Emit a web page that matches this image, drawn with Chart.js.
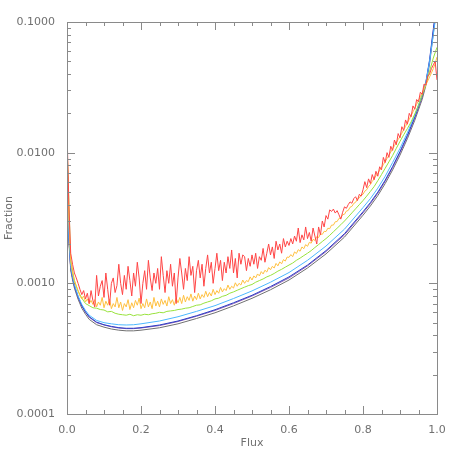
<!DOCTYPE html>
<html>
<head>
<meta charset="utf-8">
<script src="https://cdn.jsdelivr.net/npm/chart.js@4/dist/chart.umd.min.js"></script>
<style>
    body { margin: 0; background: #fff; }
    #wrap { width: 458px; height: 458px; }
</style>
</head>
<body>
<div id="wrap"><canvas id="fluxChart" width="458" height="458"></canvas></div>
<script>
        // values are in units of 1e-4 (fraction)
        // red and orange: sampled every 0.005 in flux
        const redE4 = [
            150, 40, 17, 14, 12, 11, 10, 9.0, 8.2, 8.8,
            7.6, 8.4, 7.0, 8.8, 7.4, 6.6, 11.5, 8.0, 9.5, 10.5,
            7.8, 12.0, 9.0, 6.8, 10.0, 11.0, 8.5, 9.6, 14.0, 10.0,
            8.2, 11.5, 9.0, 13.5, 10.5, 8.0, 12.0, 9.5, 14.5, 11.0,
            7.0, 10.0, 12.5, 9.0, 15.0, 11.0, 8.8, 12.0, 10.0, 13.0,
            9.0, 16.0, 11.5, 8.5, 12.5, 10.0, 14.0, 9.5, 12.0, 7.0,
            11.0, 15.5, 12.0, 9.0, 13.0, 10.5, 16.0, 11.5, 13.5, 8.5,
            12.5, 15.0, 11.0, 14.0, 9.5, 13.0, 16.5, 12.0, 14.5, 10.0,
            13.0, 17.0, 12.5, 15.0, 10.5, 14.5, 12.0, 16.0, 13.0, 18.0,
            12.0, 15.5, 11.0, 17.0, 14.0, 16.5, 16.0, 12.5, 15.5, 13.5,
            16.5, 14.0, 17.0, 13.0, 16.0, 15.0, 18.5, 14.5, 17.0, 20.0,
            16.5, 19.0, 15.5, 21.0, 18.0, 20.0, 17.0, 22.0, 19.0, 21.0,
            19.5, 22.0, 20.0, 23.0, 21.0, 26.5, 20.5, 23.5, 21.5, 27.0,
            22.0, 24.5, 21.0, 26.5, 23.0, 20.0, 27.0, 23.5, 30.0, 27.0,
            33.0, 31.0, 36.5, 35.5, 37.0, 34.5, 36.0, 33.5, 31.0, 35.0,
            38.5, 37.5, 40.0, 42.0, 41.0, 44.5, 46.0, 43.0, 48.0, 46.5,
            52, 60, 54, 63, 58, 68, 62, 72, 66, 78,
            74, 92, 84, 100, 92, 112, 104, 125, 115, 140,
            130, 158, 148, 178, 165, 200, 188, 228, 215, 255,
            245, 290, 280, 335, 330, 385, 400, 440, 470, 500,
            360
        ];
        const orangeE4 = [
            130, 30, 15, 12, 10.5, 9.5, 8.8, 8.0, 7.6, 8.0,
            7.2, 7.6, 7.0, 7.4, 6.9, 7.5, 6.6, 7.2, 6.8, 7.8,
            6.5, 7.3, 6.8, 7.6, 6.4, 7.0, 6.6, 7.8, 6.5, 7.2,
            6.2, 7.0, 6.6, 7.5, 6.3, 7.1, 6.5, 7.4, 6.8, 7.7,
            6.4, 7.0, 6.5, 7.6, 6.6, 7.2, 6.4, 7.8, 6.7, 7.3,
            6.6, 7.6, 6.9, 7.4, 6.7, 7.9, 7.0, 7.5, 6.8, 7.7,
            7.1, 7.8, 7.0, 8.1, 7.2, 7.9, 7.4, 8.3, 7.3, 8.0,
            7.5, 8.4, 7.6, 8.2, 7.8, 8.7, 7.9, 8.5, 8.0, 9.0,
            8.2, 8.8, 8.4, 9.3, 8.6, 9.1, 8.8, 9.7, 9.0, 9.5,
            9.2, 10.1, 9.5, 10.0, 9.7, 10.6, 10.0, 10.5, 10.3, 11.2,
            10.6, 11.4, 11.0, 11.8, 11.4, 12.3, 11.8, 12.6, 12.2, 13.2,
            12.7, 13.5, 13.1, 14.2, 13.6, 14.6, 14.1, 15.2, 14.8, 15.9,
            15.8, 16.6, 16.0, 17.4, 16.9, 18.1, 17.6, 19.0, 18.4, 19.8,
            19.2, 20.6, 20.3, 21.7, 21.3, 22.8, 22.4, 23.9, 23.7, 25.0,
            24.9, 26.4, 26.2, 27.9, 27.9, 29.6, 29.7, 31.4, 31.6, 33.5,
            33.8, 35.7, 36.1, 38.2, 38.8, 40.9, 41.7, 44.0, 45.0, 47.3,
            48.0, 50.8, 52.0, 55.2, 57.0, 60.3, 62.8, 66.5, 69.5, 73.4,
            76.8, 81.0, 85.4, 90.2, 95.3, 101, 107, 113, 119, 126,
            133, 141, 150, 159, 169, 180, 192, 205, 219, 234,
            250, 268, 287, 308, 330, 354, 380, 408, 440, 480,
            540
        ];
        // green: sampled every 0.01 in flux
        const greenE4 = [
            120, 15, 10.5, 8.7, 7.7, 7.0, 6.75, 6.5, 6.45, 6.3,
            6.25, 6.05, 6.1, 5.9, 5.8, 5.75, 5.7, 5.8, 5.65, 5.75,
            5.7, 5.8, 5.75, 5.85, 5.9, 6.0, 5.95, 6.1, 6.15, 6.2,
            6.3, 6.35, 6.45, 6.5, 6.65, 6.8, 6.85, 7.05, 7.2, 7.35,
            7.6, 7.7, 7.95, 8.1, 8.4, 8.6, 8.85, 9.1, 9.35, 9.6,
            9.8, 10.2, 10.5, 10.8, 11.2, 11.5, 11.9, 12.4, 12.8, 13.3,
            13.8, 14.3, 15.0, 15.6, 16.3, 17.0, 17.8, 18.8, 19.8, 20.9,
            22.0, 23.3, 24.8, 26.4, 28.1, 30.0, 32.2, 34.6, 37.2, 40.0,
            43.0, 46.5, 50.5, 55.0, 61.0, 68.0, 76.0, 85.0, 95.0, 108,
            122, 137, 153, 172, 198, 230, 275, 335, 420, 530,
            640
        ];
        // smooth curves share this flux grid
        const fluxSmooth = [0, 0.005, 0.01, 0.015, 0.02, 0.03, 0.04, 0.05, 0.06, 0.08,
            0.1, 0.12, 0.14, 0.16, 0.18, 0.2, 0.25, 0.3, 0.35, 0.4,
            0.45, 0.5, 0.55, 0.6, 0.65, 0.7, 0.75, 0.8, 0.82, 0.84,
            0.86, 0.88, 0.9, 0.92, 0.94, 0.96, 0.97, 0.98, 0.99, 1.0];
        const cyanE4 = [115, 23, 13.5, 11.3, 9.8, 8.0, 6.9, 6.2, 5.7, 5.2,
            5.0, 4.9, 4.82, 4.8, 4.82, 4.9, 5.15, 5.55, 6.1, 6.75,
            7.65, 8.75, 10.2, 12.1, 15.0, 19.3, 26.0, 38.0, 44.5, 53.5,
            66.0, 84.0, 108, 142, 194, 280, 345, 500, 800, 1300];
        const blueE4 = [120, 22.5, 13.2, 11.1, 9.6, 7.9, 6.75, 6.05, 5.55, 5.05,
            4.82, 4.68, 4.58, 4.53, 4.53, 4.58, 4.8, 5.15, 5.65, 6.28,
            7.1, 8.1, 9.45, 11.2, 13.8, 17.8, 24.0, 35.3, 41.5, 49.9,
            61.6, 78.3, 102, 136, 188, 272, 348, 515, 880, 1450];
        const purpleE4 = [110, 22, 13, 11, 9.5, 7.8, 6.7, 6.0, 5.5, 5.0,
            4.8, 4.65, 4.55, 4.5, 4.5, 4.55, 4.75, 5.1, 5.6, 6.2,
            7.0, 8.0, 9.3, 11.0, 13.6, 17.5, 23.5, 34.6, 40.7, 48.9,
            60.4, 76.8, 99.8, 133, 184, 266, 340, 500, 850, 1400];
        const grayE4 = [105, 21, 12.6, 10.6, 9.2, 7.55, 6.45, 5.8, 5.3, 4.82,
            4.62, 4.47, 4.38, 4.33, 4.33, 4.38, 4.57, 4.9, 5.38, 5.95,
            6.72, 7.68, 8.93, 10.6, 13.1, 16.8, 22.6, 33.2, 39.1, 46.9,
            58.0, 73.7, 95.8, 128, 177, 256, 327, 480, 815, 1340];

        const xTickLabels = [0, 0.2, 0.4, 0.6, 0.8, 1.0];
        const yTickLabels = [0.0001, 0.001, 0.01, 0.1];

        const axisGray = '#8a8a8a';
        const textGray = '#707070';

        // sampling grids
        const fluxFine = redE4.map((_, i) => +(i * 0.005).toFixed(3));
        const fluxMid = greenE4.map((_, i) => +(i * 0.01).toFixed(2));

        function toPoints(xs, vals) {
            return vals.map((v, i) => ({ x: xs[i], y: v * 1e-4 }));
        }

        function line(data, color) {
            return {
                data: data,
                borderColor: color,
                borderWidth: 1,
                pointRadius: 0,
                tension: 0,
                fill: false
            };
        }

        // frame with inward ticks on all four sides
        const frameTicks = {
            id: 'frameTicks',
            afterDatasetsDraw(chart) {
                const { ctx, chartArea: a, scales: { x, y } } = chart;
                ctx.save();
                ctx.strokeStyle = axisGray;
                ctx.lineWidth = 1;
                ctx.strokeRect(a.left + 0.5, a.top + 0.5, a.right - a.left, a.bottom - a.top);
                ctx.beginPath();
                for (let k = 0; k <= 20; k++) {
                    const v = k * 0.05;
                    const px = Math.round(x.getPixelForValue(v)) + 0.5;
                    const len = (k % 4 === 0) ? 8 : 4;
                    ctx.moveTo(px, a.bottom); ctx.lineTo(px, a.bottom - len);
                    ctx.moveTo(px, a.top); ctx.lineTo(px, a.top + len);
                }
                yTickLabels.forEach((dec, d) => {
                    for (let m = 1; m <= 9; m++) {
                        if (d === yTickLabels.length - 1 && m > 1) break;
                        const py = Math.round(y.getPixelForValue(dec * m)) + 0.5;
                        const len = (m === 1) ? 8 : 4;
                        ctx.moveTo(a.left, py); ctx.lineTo(a.left + len, py);
                        ctx.moveTo(a.right, py); ctx.lineTo(a.right - len, py);
                    }
                });
                ctx.stroke();
                ctx.restore();
            }
        };

        new Chart(document.getElementById('fluxChart'), {
            type: 'line',
            data: {
                datasets: [
                    line(toPoints(fluxFine, redE4), '#ff4545'),
                    line(toPoints(fluxFine, orangeE4), '#ffc040'),
                    line(toPoints(fluxMid, greenE4), '#98e23c'),
                    line(toPoints(fluxSmooth, cyanE4), '#4cb8ff'),
                    line(toPoints(fluxSmooth, blueE4), '#2a3ec8'),
                    line(toPoints(fluxSmooth, purpleE4), '#9060b4'),
                    line(toPoints(fluxSmooth, grayE4), '#707070')
                ]
            },
            options: {
                responsive: false,
                animation: false,
                layout: { padding: { top: 22, right: 21, left: 0, bottom: 0 } },
                plugins: { legend: { display: false }, tooltip: { enabled: false } },
                scales: {
                    x: {
                        type: 'linear',
                        min: 0,
                        max: 1,
                        afterBuildTicks: s => { s.ticks = xTickLabels.map(v => ({ value: v })); },
                        afterFit: s => { s.height = 44; },
                        grid: { display: false },
                        border: { display: false },
                        ticks: {
                            padding: 2,
                            color: textGray,
                            font: { family: 'DejaVu Sans', size: 11 },
                            maxRotation: 0,
                            callback: v => v.toFixed(1)
                        },
                        title: {
                            display: true,
                            text: 'Flux',
                            color: textGray,
                            padding: { top: 0, bottom: 8 },
                            font: { family: 'DejaVu Sans', size: 11 }
                        }
                    },
                    y: {
                        type: 'logarithmic',
                        min: 0.0001,
                        max: 0.1,
                        afterBuildTicks: s => { s.ticks = yTickLabels.map(v => ({ value: v })); },
                        afterFit: s => { s.width = 67; },
                        grid: { display: false },
                        border: { display: false },
                        ticks: {
                            padding: 4,
                            color: textGray,
                            font: { family: 'DejaVu Sans', size: 11 },
                            callback: v => Number(v).toFixed(4)
                        },
                        title: {
                            display: true,
                            text: 'Fraction',
                            color: textGray,
                            padding: { top: 3, bottom: 0 },
                            font: { family: 'DejaVu Sans', size: 11 }
                        }
                    }
                }
            },
            plugins: [frameTicks]
        });
</script>
</body>
</html>
